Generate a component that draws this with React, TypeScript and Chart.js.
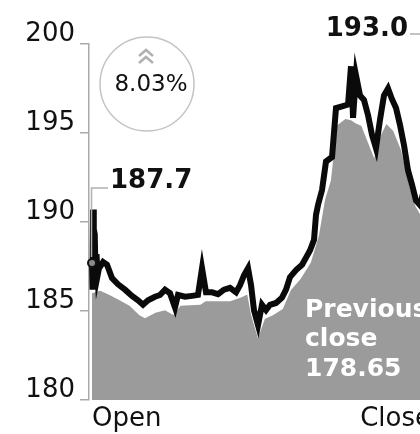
import React, { useEffect, useRef } from 'react';
import { Chart, registerables } from 'chart.js';

Chart.register(...registerables);

// ---- data ----
const sessionLabels = ['Open', 'Close'];
const yTickValues = [180, 185, 190, 195, 200];
const openPrice = 187.7;
const lastPrice = 193.0;
const previousClose = 178.65;
const changeText = '8.03%';
const sessionEnd = 390; // minutes from open

const lineMinutes = [
  0, 0.6, 1.2, 1.8, 2.3, 3.2, 4.2, 5.2, 6.5, 8.1, 12.8, 17.4, 23.2, 30.2, 38.3, 46.4, 53.4, 59.2, 65, 73.1,
  78.9, 84.7, 90.5, 96.3, 99.8, 108, 116.1, 123, 127.7, 132.3, 139.3, 146.3, 153.2, 160.2, 167.2,
  171.8, 176.4, 181.1, 184.6, 188, 192.7, 197.3, 202, 206.6, 213.6, 220.5, 225.2, 229.8, 236.8,
  243.8, 248.4, 253, 257.7, 260, 262.3, 267, 271.6, 278.6, 283.2, 290.2, 297.2, 300.6, 303, 306.4,
  311.1, 315.7, 320.4, 325, 329.6, 334.3, 338.9, 343.6, 348.2, 352.9, 357.5, 362.2, 366.8, 371.4,
  376.1, 380.7, 385.4, 390,
];
const linePrices = [
  187.7, 186.2, 190.7, 186.8, 189.6, 189.3, 186.6, 188.2, 187.0, 187.4, 187.75, 187.6, 186.85, 186.5,
  186.2, 185.85, 185.6, 185.35, 185.6, 185.8, 185.9, 186.2, 186.0, 185.2, 185.9, 185.8, 185.85,
  185.9, 187.4, 186.05, 186.05, 185.95, 186.2, 186.3, 186.05, 186.45, 187.0, 187.4, 186.45, 185.05,
  184.2, 185.35, 185.05, 185.35, 185.45, 185.75, 186.2, 186.9, 187.3, 187.6, 188.0, 188.4, 189.0,
  190.4, 190.95, 191.8, 193.4, 193.65, 196.4, 196.5, 196.6, 198.75, 195.85, 198.25, 197.1, 196.85,
  196.0, 194.9, 194.15, 195.75, 197.1, 197.5, 196.9, 196.4, 195.45, 194.3, 192.9, 192.1, 191.2,
  190.95, 191.8, 193.0,
];

const areaMinutes = [
  0, 9.3, 20.9, 32.5, 44.1, 55.7, 61.5, 73.1, 84.7, 94, 102.1, 125.4, 131.2, 160.2, 171.8, 181.1,
  185.7, 192.7, 199.7, 209, 220.5, 229.8, 241.4, 253, 262.3, 269.3, 276.2, 283.2, 293.7, 301.8,
  306.4, 313.4, 320.4, 327.3, 334.3, 341.3, 350.6, 359.8, 369.1, 376.1, 380.7, 390,
];
const areaPrices = [
  186.05, 186.2, 185.95, 185.65, 185.35, 184.8, 184.65, 184.95, 185.1, 184.85, 185.35, 185.4, 185.6,
  185.6, 185.8, 186.0, 184.8, 183.65, 184.6, 184.8, 185.15, 186.2, 186.85, 187.75, 189.25, 191.25,
  192.35, 195.45, 195.85, 195.75, 195.6, 195.45, 194.6, 193.75, 194.9, 195.6, 195.15, 194.05, 192.1,
  190.95, 190.55, 192.65,
];

const FONT = 'DejaVu Sans';

const annotations = {
  id: 'annotations',
  afterDatasetsDraw(chart: any) {
    const { ctx, scales } = chart;
    const xs = scales.x;
    const ys = scales.y;
    ctx.save();

    // open marker + label
    const ox = xs.getPixelForValue(0);
    const oy = ys.getPixelForValue(openPrice);
    ctx.strokeStyle = '#b0b0b0';
    ctx.lineWidth = 1.5;
    ctx.beginPath();
    ctx.moveTo(ox - 0.5, oy - 6);
    ctx.lineTo(ox - 0.5, 188);
    ctx.lineTo(ox + 16, 188);
    ctx.stroke();
    ctx.fillStyle = '#111';
    ctx.font = `bold 26px "${FONT}"`;
    ctx.textAlign = 'left';
    ctx.textBaseline = 'alphabetic';
    ctx.fillText(openPrice.toFixed(1), ox + 18, 188);

    ctx.beginPath();
    ctx.arc(ox, oy, 4, 0, Math.PI * 2);
    ctx.fillStyle = '#8a8a8a';
    ctx.fill();
    ctx.lineWidth = 2;
    ctx.strokeStyle = '#111';
    ctx.stroke();

    // close marker + label
    const cx = xs.getPixelForValue(sessionEnd);
    const cy = ys.getPixelForValue(lastPrice);
    ctx.strokeStyle = '#b0b0b0';
    ctx.lineWidth = 1.5;
    ctx.beginPath();
    ctx.moveTo(cx, cy - 6);
    ctx.lineTo(cx, 34);
    ctx.lineTo(cx - 18, 34);
    ctx.stroke();
    ctx.fillStyle = '#111';
    ctx.font = `bold 26px "${FONT}"`;
    ctx.textAlign = 'right';
    ctx.fillText(lastPrice.toFixed(1), cx - 20, 36);
    ctx.beginPath();
    ctx.arc(cx, cy, 4, 0, Math.PI * 2);
    ctx.fillStyle = '#8a8a8a';
    ctx.fill();
    ctx.lineWidth = 2;
    ctx.strokeStyle = '#111';
    ctx.stroke();

    // change badge
    ctx.beginPath();
    ctx.arc(147, 84, 47, 0, Math.PI * 2);
    ctx.strokeStyle = '#c4c4c4';
    ctx.lineWidth = 1.5;
    ctx.stroke();
    ctx.strokeStyle = '#b0b0b0';
    ctx.lineWidth = 2.5;
    for (const top of [50, 57]) {
      ctx.beginPath();
      ctx.moveTo(139, top + 6);
      ctx.lineTo(146, top);
      ctx.lineTo(153, top + 6);
      ctx.stroke();
    }
    ctx.fillStyle = '#111';
    ctx.font = `23px "${FONT}"`;
    ctx.textAlign = 'center';
    ctx.fillText(changeText, 151, 91);

    // previous close note
    ctx.fillStyle = '#ffffff';
    ctx.font = `bold 25px "${FONT}"`;
    ctx.textAlign = 'left';
    ctx.fillText('Previous', 305, 317);
    ctx.fillText('close', 305, 346);
    ctx.fillText(previousClose.toFixed(2), 305, 376);

    ctx.restore();
  },
};

export default function App() {
  const ref = useRef<HTMLCanvasElement>(null);

  useEffect(() => {
    if (!ref.current) return;
    const chart = new Chart(ref.current, {
      type: 'line',
      data: {
        datasets: [
          {
            data: lineMinutes.map((m, i) => ({ x: m, y: linePrices[i] })),
            borderColor: '#0a0a0a',
            borderWidth: 6,
            pointRadius: 0,
            tension: 0,
            fill: false,
          },
          {
            data: areaMinutes.map((m, i) => ({ x: m, y: areaPrices[i] })),
            borderColor: '#ffffff',
            borderWidth: 2,
            backgroundColor: '#9b9b9b',
            pointRadius: 0,
            tension: 0,
            fill: 'start',
          },
        ],
      },
      options: {
        animation: false,
        responsive: false,
        devicePixelRatio: 1,
        layout: { padding: { left: 0, right: 12, top: 44, bottom: 0 } },
        plugins: { legend: { display: false }, tooltip: { enabled: false } },
        scales: {
          x: {
            type: 'linear',
            min: -3.5,
            max: sessionEnd,
            afterBuildTicks: (s: any) => {
              s.ticks = [{ value: -3.5 }, { value: sessionEnd }];
            },
            afterFit: (s: any) => {
              s.height = 34;
            },
            ticks: {
              callback: (_v: any, i: number) => sessionLabels[i],
              align: 'inner',
              labelOffset: 3,
              padding: -4,
              maxRotation: 0,
              autoSkip: false,
              color: '#111',
              font: { family: FONT, size: 26 },
            },
            grid: { display: false },
            border: { display: false },
          },
          y: {
            min: 180,
            max: 200,
            afterBuildTicks: (s: any) => {
              s.ticks = yTickValues.map((v) => ({ value: v }));
            },
            afterFit: (s: any) => {
              s.width = 89;
            },
            ticks: {
              padding: 5,
              labelOffset: -10,
              color: '#111',
              font: { family: FONT, size: 26 },
            },
            grid: { drawOnChartArea: false, drawTicks: true, tickLength: 9, color: '#aaaaaa', lineWidth: 1.5 },
            border: { display: true, color: '#aaaaaa', width: 1.5 },
          },
        },
      },
      plugins: [annotations],
    });
    return () => chart.destroy();
  }, []);

  return (
    <div
      style={{
        position: 'fixed',
        left: 0,
        top: 0,
        width: 420,
        height: 434,
        overflow: 'hidden',
        background: '#fff',
      }}
    >
      <canvas ref={ref} width={440} height={434} style={{ display: 'block', width: 440, height: 434 }} />
    </div>
  );
}
